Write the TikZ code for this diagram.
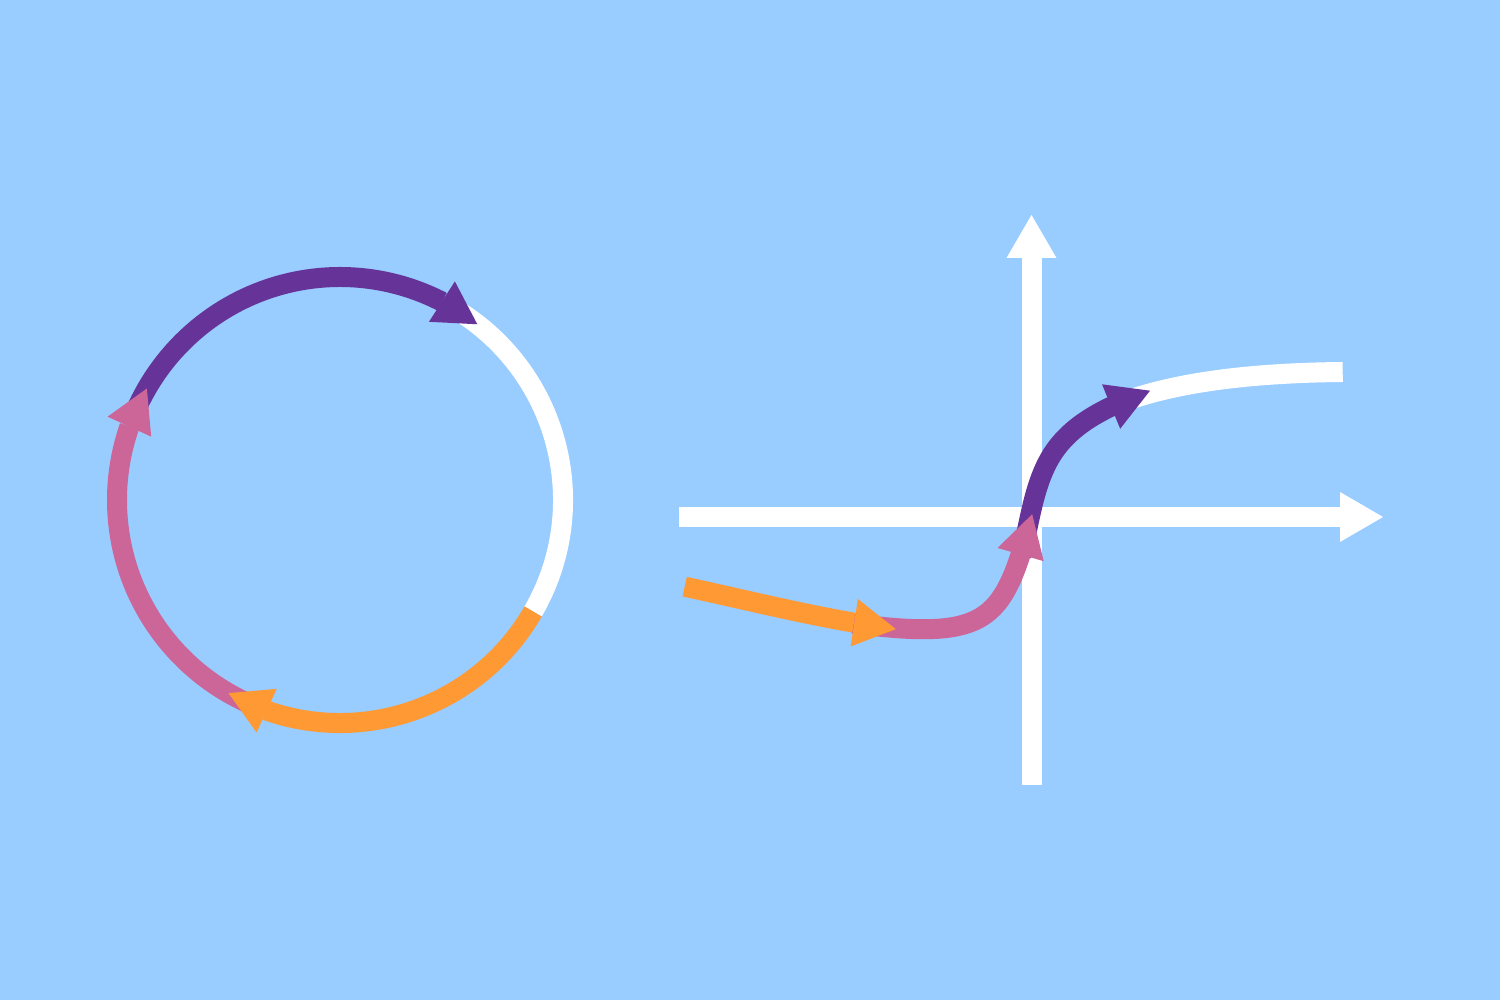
\documentclass[tikz,border=0pt]{standalone}
\usetikzlibrary{arrows.meta,bending}
\definecolor{bgblue}{HTML}{99CCFF}
\definecolor{vpurple}{HTML}{663399}
\definecolor{vpink}{HTML}{CC6699}
\definecolor{vorange}{HTML}{FF9933}
\begin{document}
\begin{tikzpicture}[x=1pt,y=1pt,
  band/.style={line width=20pt},
  tipA/.style={-{Triangle[length=42pt,width=48pt,line width=0pt]}},
  axisline/.style={line width=20pt, white, -{Triangle[length=43pt,width=50pt,line width=0pt]}}]
\fill[bgblue] (0,0) rectangle (1500,1000);
\useasboundingbox (0,0) rectangle (1500,1000);
% ---- cycle ----
\coordinate (c) at (340,500);
\draw[band, white] ([shift={(-30:223)}]c) arc[start angle=-30,end angle=60,radius=223];
\draw[band, vpurple, tipA] ([shift={(158:223)}]c) arc[start angle=158,end angle=52,radius=223];
\draw[band, vpink, tipA] ([shift={(-112:223)}]c) arc[start angle=-112,end angle=-210,radius=223];
\draw[band, vorange, tipA] ([shift={(-30:223)}]c) arc[start angle=-30,end angle=-120,radius=223];
% ---- axes ----
\coordinate (xs) at (679,483);
\coordinate (xe) at (1383,483);
\coordinate (ys) at (1031.5,215);
\coordinate (ye) at (1031.5,785);
\draw[axisline] (xs) -- (xe);
\draw[axisline] (ys) -- (ye);
% ---- curve ----
\coordinate (o0) at (684.7,413.3);
\coordinate (o1) at (895.8,370.9);
\coordinate (p0) at (852.7,376.5);
\coordinate (p1) at (1032.2,485.8);
\coordinate (u0) at (1021,444.3);
\coordinate (um) at (1050,542);
\coordinate (u1) at (1150,609.3);
\coordinate (w0) at (1111.7,593.8);
\coordinate (w1) at (1342.7,628);
\draw[band, white] (w0) .. controls (1167.3,616.3) and (1242.7,627) .. (w1);
\draw[band, vpurple, tipA] (u0) .. controls (1029.9,477.1) and (1033,512.6) .. (um)
  .. controls (1070,576.6) and (1107.7,593.9) .. (u1);
\draw[band, vpink, tipA] (p0) .. controls (991.5,358.5) and (1003.5,379.6) .. (p1);
\draw[band, vorange, tipA] (o0) .. controls (753.5,398.4) and (826.4,379.9) .. (o1);
\end{tikzpicture}
\end{document}
